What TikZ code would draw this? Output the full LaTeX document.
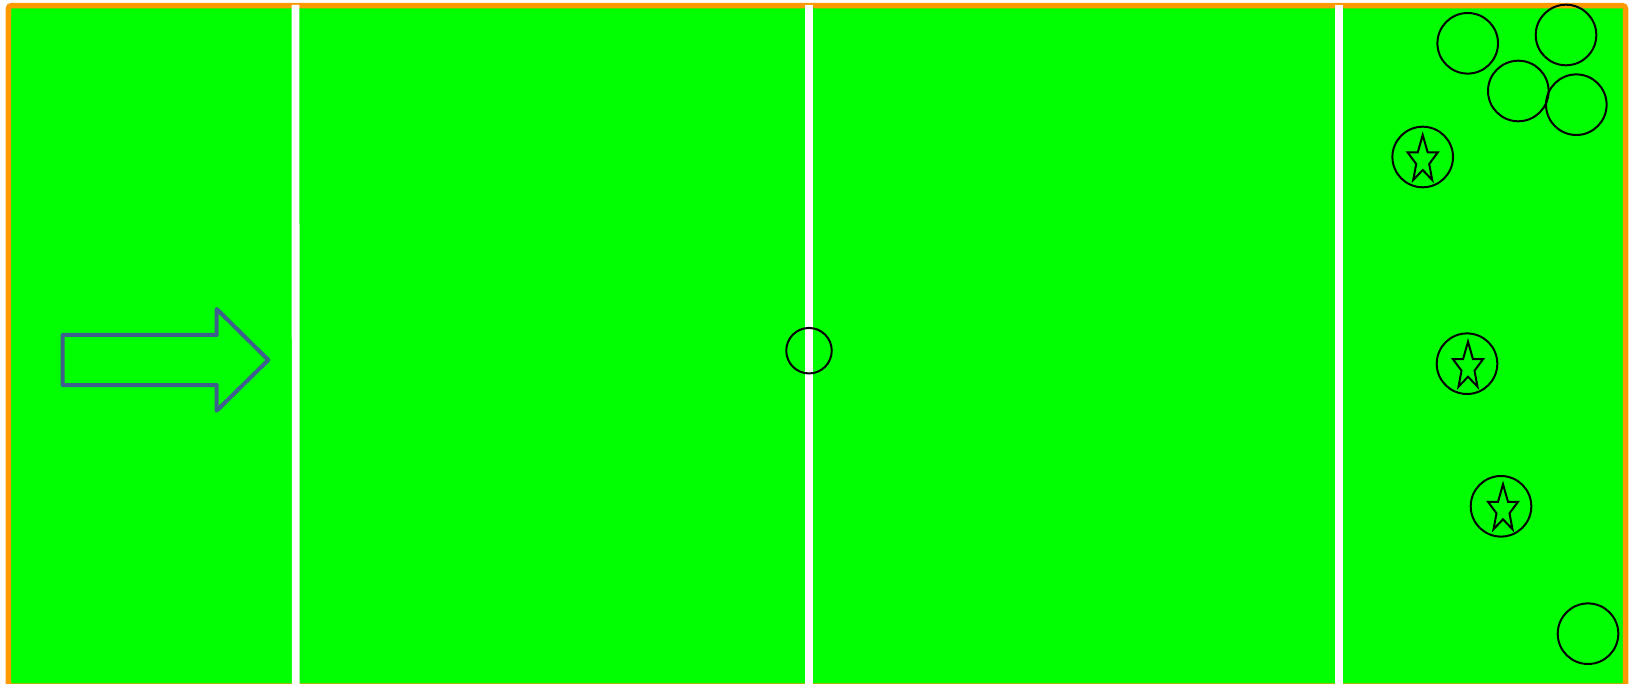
\documentclass[tikz,border=0pt]{standalone}
\usetikzlibrary{shapes.geometric}
\definecolor{fieldgreen}{RGB}{0,255,0}
\definecolor{borderorange}{RGB}{255,153,0}
\definecolor{arrowblue}{RGB}{62,96,140}
\tikzset{
  ball/.style={circle, draw=black, line width=2pt, minimum size=60.6pt, inner sep=0pt},
  midball/.style={circle, draw=black, line width=2pt, minimum size=45.5pt, inner sep=0pt},
  fieldline/.style={draw=white, line width=7.8pt},
  starline/.style={draw=black, line width=2pt, line join=miter},
  pics/starmark/.style={code={
    \draw[starline] (0,-22) -- (5,-4.5) -- (15,-4.5) -- (6.5,7) -- (9.5,23) -- (0,13)
      -- (-9.5,23) -- (-6.5,7) -- (-15,-4.5) -- (-5,-4.5) -- cycle;
  }}
}
\begin{document}
\begin{tikzpicture}[x=1pt,y=-1pt]
\useasboundingbox (0,0) rectangle (1638,684);
\clip (0,0) rectangle (1638,684);
% field
\fill[fieldgreen] (8.4,5.7) rectangle (1625.5,686);
\draw[borderorange, line width=5.5pt, rounded corners=3pt] (8.4,5.7) rectangle (1625.5,686);
% lines
\coordinate (l1t) at (295.5,5); \coordinate (l1b) at (295.8,690);
\coordinate (l2t) at (809,5);   \coordinate (l2b) at (809,690);
\coordinate (l3t) at (1339,5);  \coordinate (l3b) at (1339,690);
\draw[fieldline] (l1t) -- (l1b);
\draw[fieldline] (l2t) -- (l2b);
\draw[fieldline] (l3t) -- (l3b);
% centre circle
\node[midball] (mid) at (809,350.7) {};
% arrow
\draw[arrowblue, line width=4pt, line join=round, line cap=round]
  (62.7,335) -- (216.7,335) -- (216.7,309) -- (268.3,360) -- (216.7,410.7)
  -- (216.7,385) -- (62.7,385) -- cycle;
% plain balls
\node[ball] (b1) at (1467.7,43.3) {};
\node[ball] (b2) at (1566,35) {};
\node[ball] (b3) at (1518.3,91) {};
\node[ball] (b4) at (1576.3,104.7) {};
\node[ball] (b5) at (1588,633.7) {};
% star balls
\node[ball] (s1) at (1422.7,157) {};
\node[ball] (s2) at (1467,363.7) {};
\node[ball] (s3) at (1501,506.3) {};
\pic at (s1.center) {starmark};
\pic at ([xshift=1pt]s2.center) {starmark};
\pic at ([xshift=2pt]s3.center) {starmark};
\end{tikzpicture}
\end{document}
